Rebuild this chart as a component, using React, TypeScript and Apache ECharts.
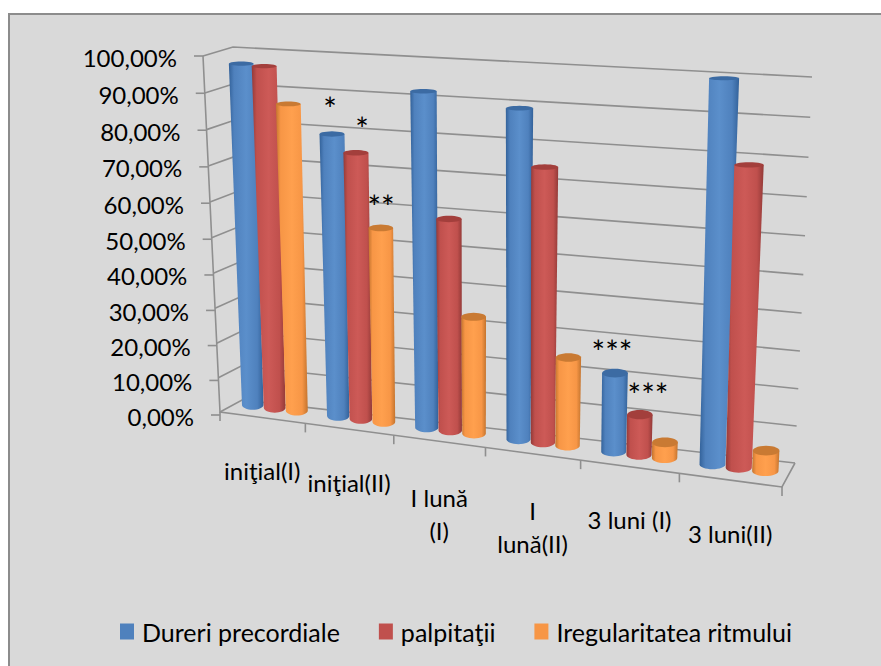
import React, { useEffect, useRef } from "react";
import * as echarts from "echarts";

const categories = ["iniţial(I)", "iniţial(II)", "I lună\n(I)", "I\nlună(II)", "3 luni (I)", "3 luni(II)"];
const durere = [96.4, 79, 92, 89.2, 21.5, 99.8];
const palpitatii = [96.1, 74.4, 58.6, 74.4, 11, 78.8];
const iregular = [86.3, 54.5, 32.6, 24.3, 4.3, 5.5];
const tickValues = [0, 10, 20, 30, 40, 50, 60, 70, 80, 90, 100];
const tickLabels = ["0,00%", "10,00%", "20,00%", "30,00%", "40,00%", "50,00%", "60,00%", "70,00%", "80,00%", "90,00%", "100,00%"];
const seriesNames = ["Dureri precordiale", "palpitaţii", "Iregularitatea ritmului"];
const stars = [
  { text: "*", x: 330, y: 108 },
  { text: "*", x: 362, y: 128 },
  { text: "**", x: 381, y: 206 },
  { text: "***", x: 612, y: 351 },
  { text: "***", x: 648, y: 394 },
];

type Pt = [number, number];
type Quad = [Pt, Pt, Pt, Pt]; // BL, BR, TR, TL

function homography(q: Quad) {
  const [[x0, y0], [x1, y1], [x2, y2], [x3, y3]] = q;
  const dx1 = x1 - x2, dx2 = x3 - x2, sx = x0 - x1 + x2 - x3;
  const dy1 = y1 - y2, dy2 = y3 - y2, sy = y0 - y1 + y2 - y3;
  const den = dx1 * dy2 - dx2 * dy1;
  const g = (sx * dy2 - dx2 * sy) / den;
  const h = (dx1 * sy - sx * dy1) / den;
  const a = x1 - x0 + g * x1, b = x3 - x0 + h * x3, c = x0;
  const d = y1 - y0 + g * y1, e = y3 - y0 + h * y3, f = y0;
  return (s: number, t: number): Pt => {
    const w = g * s + h * t + 1;
    return [(a * s + b * t + c) / w, (d * s + e * t + f) / w];
  };
}

const front = homography([[220, 412], [782, 487], [790, 91], [203, 56]]);
const back = homography([[242, 400], [795, 463], [812, 77], [233, 47]]);
const mid = homography([[231, 402], [788, 474], [804, 82], [218, 49]]);

const GW = 600;
const GH = 100;

function makeBarSeries(name: string, values: number[], offset: number, color: string, dark: string, light: string, cap: string) {
  const fill = new echarts.graphic.LinearGradient(0, 0, 1, 0, [
    { offset: 0, color: dark },
    { offset: 0.15, color },
    { offset: 0.5, color: light },
    { offset: 0.82, color },
    { offset: 1, color: dark },
  ]);
  return {
    type: "custom",
    name,
    coordinateSystem: "cartesian2d",
    itemStyle: { color },
    silent: true,
    clip: false,
    z: 3,
    data: values.map((v, i) => [i, v]),
    renderItem: (_: any, api: any) => {
      const p = api.coord([api.value(0), api.value(1)]);
      const s = p[0] / GW + ((offset - 0.5) / 6);
      const t = 1 - p[1] / GH;
      const hwBase = 0.128 / 6;
      const hwTop = hwBase * (1 + 0.1 * t);
      const bc = mid(s, 0), tc = mid(s, t);
      const bx = mid(s + hwBase, 0)[0] - bc[0];
      const tx = mid(s + hwTop, t)[0] - tc[0];
      const ryTop = 5 - 3 * t;
      const ryBase = 5;
      const pts: number[][] = [[tc[0] - tx, tc[1]], [tc[0] + tx, tc[1]]];
      for (let k = 0; k <= 16; k++) {
        const a = (k / 16) * Math.PI;
        pts.push([bc[0] + bx * Math.cos(a), bc[1] + ryBase * Math.sin(a)]);
      }
      const capPts: number[][] = [];
      for (let k = 0; k < 28; k++) {
        const a = (k / 28) * 2 * Math.PI;
        capPts.push([tc[0] + tx * Math.cos(a), tc[1] + ryTop * Math.sin(a)]);
      }
      return {
        type: "group",
        children: [
          { type: "polygon", shape: { points: pts }, style: { fill } },
          { type: "polygon", shape: { points: capPts }, style: { fill: cap } },
        ],
      };
    },
  };
}

const GRID_COLOR = "#8f8f8f";
const lineStyle = { stroke: GRID_COLOR, lineWidth: 1.6, fill: "none" };

export default function App() {
  const ref = useRef<HTMLDivElement>(null);
  useEffect(() => {
    const chart = echarts.init(ref.current!, undefined, { renderer: "svg" });
    chart.setOption({
      animation: false,
      backgroundColor: "#ffffff",
      grid: { left: 0, top: 0, width: GW, height: GH, containLabel: false, show: false },
      xAxis: { type: "category", data: categories, show: false },
      yAxis: { type: "value", min: 0, max: 100, interval: 10, show: false },
      legend: {
        left: 120,
        top: 619,
        padding: 0,
        icon: "rect",
        itemWidth: 14,
        itemHeight: 16,
        itemGap: 39,
        data: seriesNames,
        textStyle: { fontFamily: "Lato", fontSize: 25, color: "#000", padding: [0, 0, 0, 3] },
      },
      graphic: [
        {
          type: "rect",
          z: -10,
          silent: true,
          shape: { x: 9, y: 14, width: 890, height: 670 },
          style: { fill: "#d9d9d9", stroke: "#8c8c8c", lineWidth: 2 },
        },
        ...stars.map((a) => ({
          type: "text",
          z: 10,
          silent: true,
          x: a.x,
          y: a.y,
          style: { text: a.text, fill: "#000", font: "32px Lato", textAlign: "center", textVerticalAlign: "middle" },
        })),
      ],
      series: [
        {
          type: "custom",
          name: "grid",
          coordinateSystem: "cartesian2d",
          silent: true,
          clip: false,
          z: 1,
          data: tickValues.map((v) => [0, v]),
          renderItem: (_: any, api: any) => {
            const t = 1 - api.coord([0, api.value(1)])[1] / GH;
            const f = front(0, t), b = back(0, t), r = back(1, t);
            const dy = 3 * (1 - t);
            const children: any[] = [
              { type: "polyline", shape: { points: [f, b, r] }, style: lineStyle },
              { type: "line", shape: { x1: f[0] - 9, y1: f[1] + dy, x2: f[0], y2: f[1] + dy }, style: lineStyle },
            ];
            if (api.value(1) === 0) {
              children.push({ type: "polyline", shape: { points: [front(0, 1), f, front(1, 0), back(1, 0)] }, style: lineStyle });
              for (let i = 0; i <= 6; i++) {
                const q = front(i / 6, 0);
                children.push({ type: "line", shape: { x1: q[0], y1: q[1], x2: q[0], y2: q[1] + 9 }, style: lineStyle });
              }
            }
            return { type: "group", children };
          },
        },
        {
          type: "custom",
          name: "ticks",
          coordinateSystem: "cartesian2d",
          silent: true,
          clip: false,
          z: 2,
          data: tickValues.map((v) => [0, v]),
          renderItem: (p: any, api: any) => {
            const t = 1 - api.coord([0, api.value(1)])[1] / GH;
            const f = front(0, t);
            return {
              type: "text",
              x: f[0] - 26,
              y: f[1] + 1 + 3 * (1 - t),
              style: { text: tickLabels[p.dataIndex], fill: "#000", font: "24px Lato", textAlign: "right", textVerticalAlign: "middle" },
            };
          },
        },
        {
          type: "custom",
          name: "cats",
          coordinateSystem: "cartesian2d",
          silent: true,
          clip: false,
          z: 2,
          data: categories.map((_, i) => [i, 0]),
          renderItem: (p: any, api: any) => {
            const c = api.coord([api.value(0), 0]);
            const f = front(c[0] / GW, 0);
            const two = categories[p.dataIndex].includes("\n");
            return {
              type: "text",
              x: f[0],
              y: f[1] + 40,
              style: {
                text: categories[p.dataIndex],
                fill: "#000",
                font: "24px Lato",
                lineHeight: two ? 33 : 26,
                textAlign: "center",
                textVerticalAlign: "top",
              },
            };
          },
        },
        makeBarSeries(seriesNames[0], durere, 0.26, "#4f81bd", "#33629a", "#5b8fcb", "#3c6ba3"),
        makeBarSeries(seriesNames[1], palpitatii, 0.52, "#c0504d", "#933a38", "#cd5a57", "#a33f3c"),
        makeBarSeries(seriesNames[2], iregular, 0.78, "#f79646", "#c4742e", "#ffa04e", "#c97a33"),
      ],
    });
    return () => chart.dispose();
  }, []);
  return <div ref={ref} style={{ position: "fixed", left: 0, top: 0, width: 881, height: 666 }} />;
}
